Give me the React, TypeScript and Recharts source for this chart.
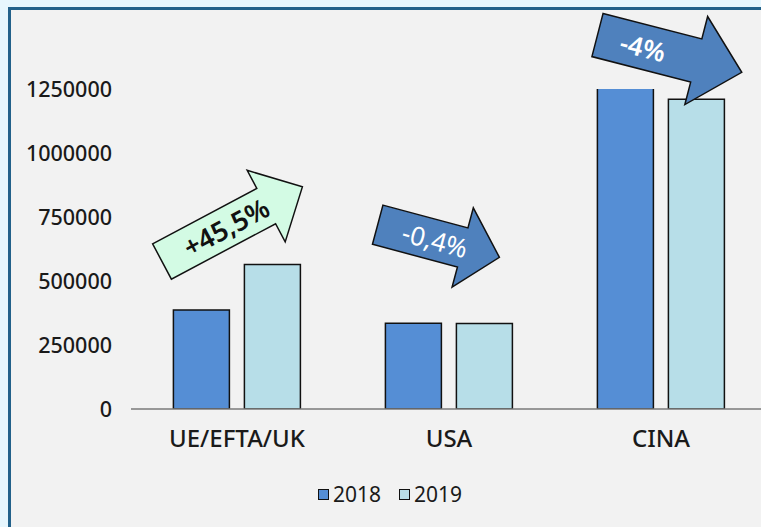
import { BarChart, Bar, XAxis, YAxis } from 'recharts';

const categories = ['UE/EFTA/UK', 'USA', 'CINA'];
const values2018 = [387000, 335000, 1260000];
const values2019 = [564000, 333700, 1210000];
const yTicks = [0, 250000, 500000, 750000, 1000000, 1250000];

const seriesNames = ['2018', '2019'];
const seriesColors = ['#558ed5', '#b7dee8'];

const data = categories.map((name, i) => ({
  name,
  y2018: values2018[i],
  y2019: values2019[i],
}));

// change annotations drawn as block arrows on top of the chart
const arrows = [
  { label: '+45,5%', x: 162, y: 261.5, angle: -28, sl: 118, sh: 40, hl: 41, hh: 81, fill: '#d3fbe4', text: '#111', tx: 226, ty: 227, fw: 600, fs: 27 },
  { label: '-0,4%', x: 377.7, y: 224.7, angle: 15, sl: 88, sh: 40.5, hl: 38, hh: 82, fill: '#4f81bd', text: '#fff', tx: 435, ty: 240, fw: 400, fs: 26 },
  { label: '-4%', x: 597.5, y: 35, angle: 14.5, sl: 102, sh: 44.6, hl: 47, hh: 91, fill: '#4f81bd', text: '#fff', tx: 643, ty: 47, fw: 600, fs: 26 },
];

function arrowPoints(a: (typeof arrows)[number]) {
  const pts = [
    [0, -a.sh / 2],
    [a.sl, -a.sh / 2],
    [a.sl, -a.hh / 2],
    [a.sl + a.hl, 0],
    [a.sl, a.hh / 2],
    [a.sl, a.sh / 2],
    [0, a.sh / 2],
  ];
  return pts.map((p) => p.join(',')).join(' ');
}

export default function App() {
  return (
    <div
      style={{
        position: 'fixed',
        left: 0,
        top: 0,
        width: 761,
        height: 527,
        overflow: 'hidden',
        background: '#e6f6fd',
        fontFamily: '"Noto Sans", sans-serif',
      }}
    >
      <div
        style={{
          position: 'absolute',
          left: 8,
          top: 7,
          width: 800,
          height: 560,
          background: '#f2f2f2',
          borderLeft: '3px solid #22618a',
          borderTop: '3px solid #22618a',
        }}
      />
      <div style={{ position: 'absolute', left: 0, top: 0 }}>
        <BarChart
          width={800}
          height={540}
          data={data}
          margin={{ top: 89, right: 33, left: 11, bottom: 101 }}
          barCategoryGap="20%"
          barGap={15}
        >
          <XAxis
            dataKey="name"
            height={30}
            axisLine={{ stroke: '#7a7a7a', strokeWidth: 1.5 }}
            tickLine={false}
            tickMargin={15}
            tick={{ fontSize: 24, fontWeight: 500, fill: '#1a1a1a' }}
          />
          <YAxis
            width={120}
            domain={[0, 1250000]}
            ticks={yTicks}
            allowDataOverflow
            axisLine={false}
            tickLine={false}
            tickMargin={13}
            tick={{ fontSize: 21.5, fontWeight: 500, fill: '#1a1a1a' }}
          />
          <Bar dataKey="y2018" name={seriesNames[0]} fill={seriesColors[0]} stroke="#111" strokeWidth={1.5} isAnimationActive={false} />
          <Bar dataKey="y2019" name={seriesNames[1]} fill={seriesColors[1]} stroke="#111" strokeWidth={1.5} isAnimationActive={false} />
        </BarChart>
      </div>
      <svg width={761} height={527} style={{ position: 'absolute', left: 0, top: 0, pointerEvents: 'none' }}>
        {arrows.map((a) => (
          <g key={a.label}>
            <polygon
              points={arrowPoints(a)}
              transform={`translate(${a.x} ${a.y}) rotate(${a.angle})`}
              fill={a.fill}
              stroke="#111"
              strokeWidth={1.5}
              strokeLinejoin="miter"
            />
            <text
              x={0}
              y={0}
              transform={`translate(${a.tx} ${a.ty}) rotate(${a.angle})`}
              textAnchor="middle"
              dominantBaseline="central"
              fontSize={a.fs}
              fontWeight={a.fw}
              fill={a.text}
              fontFamily='"Noto Sans", sans-serif'
            >
              {a.label}
            </text>
          </g>
        ))}
      </svg>
      <div
        style={{
          position: 'absolute',
          top: 480,
          left: 318,
          display: 'flex',
          alignItems: 'center',
          gap: 18,
          fontSize: 21,
          color: '#1a1a1a',
        }}
      >
        {seriesNames.map((s, i) => (
          <div key={s} style={{ display: 'flex', alignItems: 'center', gap: 4 }}>
            <span
              style={{
                display: 'inline-block',
                width: 9,
                height: 9,
                background: seriesColors[i],
                border: '1.5px solid #111',
              }}
            />
            <span>{s}</span>
          </div>
        ))}
      </div>
    </div>
  );
}
